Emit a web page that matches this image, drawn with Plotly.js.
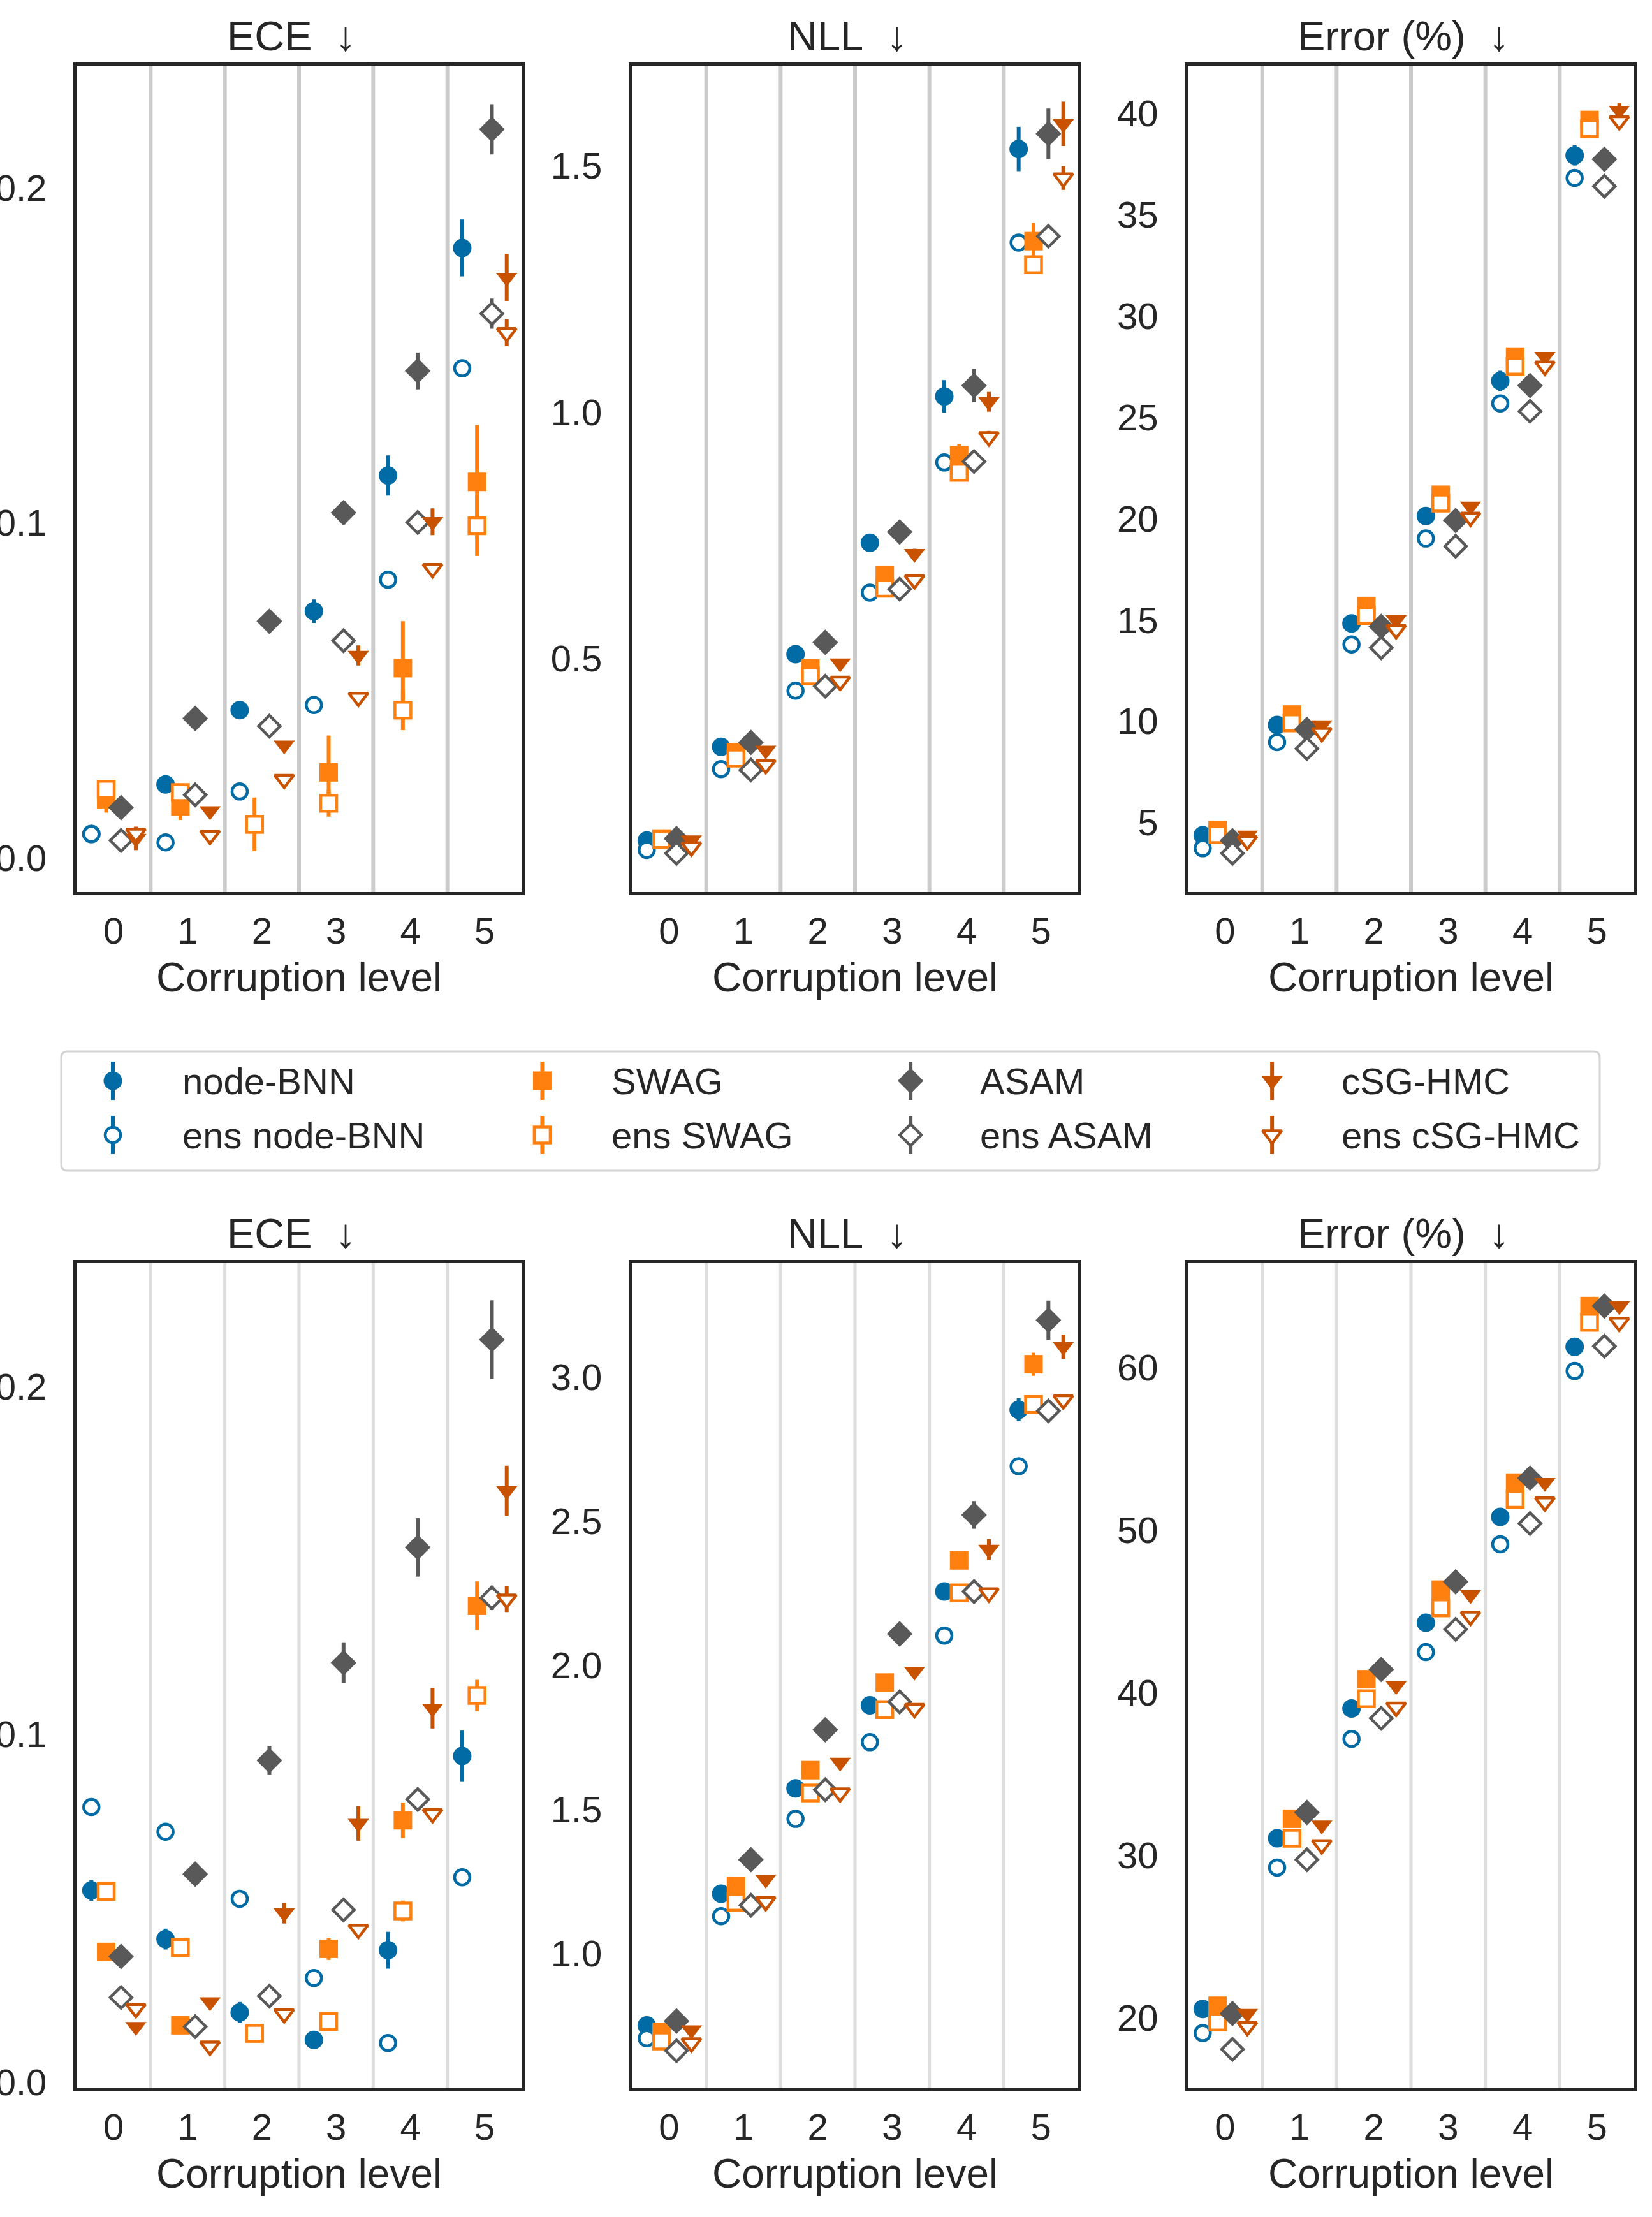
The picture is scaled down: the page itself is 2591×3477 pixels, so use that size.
<!DOCTYPE html>
<html>
<head>
<meta charset="utf-8">
<script src="https://cdn.plot.ly/plotly-3.0.1.min.js"></script>
<style>
  html, body { margin: 0; padding: 0; background: #ffffff; }
  #fig { width: 2591px; height: 3477px; }
</style>
</head>
<body>
<div id="fig"></div>
<script>
// ---------------------------------------------------------------
// Corruption levels (x categories) and methods
// ---------------------------------------------------------------
const LEVELS = [0, 1, 2, 3, 4, 5];
const METHODS = ['node-BNN', 'SWAG', 'ASAM', 'cSG-HMC'];

// ---------------------------------------------------------------
// CIFAR-10-C (top row): mean and error-bar half-widths
// ---------------------------------------------------------------
// ECE
const c10_ece_node       = [0.0071, 0.0219, 0.0441, 0.0736, 0.1141, 0.1820];
const c10_ece_node_sd    = [0.0010, 0.0020, 0.0020, 0.0035, 0.0060, 0.0085];
const c10_ece_ensNode    = [0.0071, 0.0046, 0.0198, 0.0456, 0.0830, 0.1461];
const c10_ece_ensNode_sd = [0.0010, 0.0010, 0.0010, 0.0010, 0.0010, 0.0020];
const c10_ece_swag       = [0.0175, 0.0153, 0.0100, 0.0255, 0.0566, 0.1122];
const c10_ece_swag_sd    = [0.0040, 0.0040, 0.0080, 0.0110, 0.0140, 0.0170];
const c10_ece_ensSwag    = [0.0205, 0.0195, 0.0100, 0.0163, 0.0441, 0.0991];
const c10_ece_ensSwag_sd = [0.0010, 0.0010, 0.0020, 0.0040, 0.0060, 0.0090];
const c10_ece_asam       = [0.0150, 0.0416, 0.0706, 0.1030, 0.1453, 0.2174];
const c10_ece_asam_sd    = [0.0010, 0.0010, 0.0010, 0.0035, 0.0055, 0.0075];
const c10_ece_ensAsam    = [0.0052, 0.0188, 0.0393, 0.0648, 0.1001, 0.1624];
const c10_ece_ensAsam_sd = [0.0010, 0.0010, 0.0010, 0.0010, 0.0010, 0.0045];
const c10_ece_csg        = [0.0058, 0.0140, 0.0336, 0.0604, 0.1003, 0.1732];
const c10_ece_csg_sd     = [0.0035, 0.0010, 0.0010, 0.0030, 0.0040, 0.0070];
const c10_ece_ensCsg     = [0.0073, 0.0067, 0.0234, 0.0479, 0.0863, 0.1567];
const c10_ece_ensCsg_sd  = [0.0010, 0.0010, 0.0010, 0.0010, 0.0010, 0.0040];

// NLL
const c10_nll_node       = [0.131, 0.321, 0.509, 0.735, 1.032, 1.534];
const c10_nll_node_sd    = [0.005, 0.005, 0.005, 0.015, 0.033, 0.045];
const c10_nll_ensNode    = [0.112, 0.276, 0.435, 0.634, 0.898, 1.344];
const c10_nll_ensNode_sd = [0.005, 0.005, 0.005, 0.005, 0.005, 0.005];
const c10_nll_swag       = [0.135, 0.310, 0.480, 0.669, 0.913, 1.347];
const c10_nll_swag_sd    = [0.005, 0.005, 0.005, 0.010, 0.023, 0.037];
const c10_nll_ensSwag    = [0.133, 0.298, 0.465, 0.643, 0.878, 1.299];
const c10_nll_ensSwag_sd = [0.005, 0.005, 0.005, 0.005, 0.005, 0.005];
const c10_nll_asam       = [0.135, 0.330, 0.533, 0.757, 1.054, 1.565];
const c10_nll_asam_sd    = [0.005, 0.005, 0.005, 0.010, 0.034, 0.051];
const c10_nll_ensAsam    = [0.105, 0.274, 0.444, 0.641, 0.900, 1.357];
const c10_nll_ensAsam_sd = [0.005, 0.005, 0.005, 0.005, 0.005, 0.005];
const c10_nll_csg        = [0.132, 0.314, 0.491, 0.713, 1.021, 1.585];
const c10_nll_csg_sd     = [0.005, 0.005, 0.005, 0.010, 0.020, 0.045];
const c10_nll_ensCsg     = [0.118, 0.285, 0.454, 0.660, 0.950, 1.475];
const c10_nll_ensCsg_sd  = [0.005, 0.005, 0.005, 0.005, 0.012, 0.024];

// Error (%)
const c10_err_node       = [4.37, 9.82, 14.83, 20.13, 26.80, 37.93];
const c10_err_node_sd    = [0.10, 0.10, 0.10, 0.20, 0.50, 0.50];
const c10_err_ensNode    = [3.73, 8.97, 13.79, 19.02, 25.69, 36.82];
const c10_err_ensNode_sd = [0.10, 0.10, 0.10, 0.10, 0.10, 0.10];
const c10_err_swag       = [4.62, 10.33, 15.69, 21.18, 28.00, 39.68];
const c10_err_swag_sd    = [0.10, 0.10, 0.10, 0.10, 0.10, 0.10];
const c10_err_ensSwag    = [4.40, 9.92, 15.22, 20.77, 27.53, 39.26];
const c10_err_ensSwag_sd = [0.10, 0.10, 0.10, 0.10, 0.10, 0.10];
const c10_err_asam       = [4.11, 9.60, 14.68, 19.91, 26.57, 37.74];
const c10_err_asam_sd    = [0.10, 0.10, 0.10, 0.10, 0.10, 0.10];
const c10_err_ensAsam    = [3.48, 8.65, 13.63, 18.64, 25.30, 36.41];
const c10_err_ensAsam_sd = [0.10, 0.10, 0.10, 0.10, 0.10, 0.10];
const c10_err_csg        = [4.37, 9.82, 15.00, 20.61, 28.00, 40.15];
const c10_err_csg_sd     = [0.10, 0.10, 0.10, 0.10, 0.10, 0.35];
const c10_err_ensCsg     = [4.10, 9.44, 14.52, 20.07, 27.53, 39.64];
const c10_err_ensCsg_sd  = [0.10, 0.10, 0.10, 0.10, 0.10, 0.10];

// ---------------------------------------------------------------
// CIFAR-100-C (bottom row)
// ---------------------------------------------------------------
// ECE
const c100_ece_node       = [0.0551, 0.0411, 0.0200, 0.0121, 0.0379, 0.0938];
const c100_ece_node_sd    = [0.0030, 0.0030, 0.0030, 0.0010, 0.0053, 0.0073];
const c100_ece_ensNode    = [0.0791, 0.0720, 0.0527, 0.0299, 0.0112, 0.0589];
const c100_ece_ensNode_sd = [0.0010, 0.0010, 0.0010, 0.0010, 0.0010, 0.0010];
const c100_ece_swag       = [0.0374, 0.0163, 0.0140, 0.0383, 0.0753, 0.1370];
const c100_ece_swag_sd    = [0.0010, 0.0010, 0.0010, 0.0032, 0.0051, 0.0070];
const c100_ece_ensSwag    = [0.0548, 0.0387, 0.0140, 0.0174, 0.0492, 0.1112];
const c100_ece_ensSwag_sd = [0.0010, 0.0010, 0.0010, 0.0010, 0.0030, 0.0045];
const c100_ece_asam       = [0.0361, 0.0598, 0.0925, 0.1206, 0.1538, 0.2136];
const c100_ece_asam_sd    = [0.0010, 0.0010, 0.0042, 0.0059, 0.0084, 0.0113];
const c100_ece_ensAsam    = [0.0243, 0.0159, 0.0247, 0.0495, 0.0813, 0.1393];
const c100_ece_ensAsam_sd = [0.0010, 0.0010, 0.0010, 0.0010, 0.0010, 0.0035];
const c100_ece_csg        = [0.0159, 0.0230, 0.0486, 0.0744, 0.1075, 0.1701];
const c100_ece_csg_sd     = [0.0010, 0.0010, 0.0030, 0.0050, 0.0058, 0.0072];
const c100_ece_ensCsg     = [0.0211, 0.0103, 0.0196, 0.0439, 0.0772, 0.1389];
const c100_ece_ensCsg_sd  = [0.0010, 0.0010, 0.0010, 0.0010, 0.0010, 0.0037];

// NLL
const c100_nll_node       = [0.750, 1.207, 1.573, 1.861, 2.256, 2.887];
const c100_nll_node_sd    = [0.010, 0.010, 0.010, 0.010, 0.010, 0.040];
const c100_nll_ensNode    = [0.705, 1.129, 1.467, 1.733, 2.103, 2.691];
const c100_nll_ensNode_sd = [0.010, 0.010, 0.010, 0.010, 0.010, 0.010];
const c100_nll_swag       = [0.727, 1.234, 1.636, 1.940, 2.364, 3.045];
const c100_nll_swag_sd    = [0.010, 0.010, 0.010, 0.010, 0.010, 0.040];
const c100_nll_ensSwag    = [0.696, 1.178, 1.557, 1.846, 2.251, 2.905];
const c100_nll_ensSwag_sd = [0.010, 0.010, 0.010, 0.010, 0.010, 0.010];
const c100_nll_asam       = [0.765, 1.325, 1.776, 2.109, 2.522, 3.198];
const c100_nll_asam_sd    = [0.010, 0.010, 0.010, 0.010, 0.048, 0.068];
const c100_nll_ensAsam    = [0.662, 1.167, 1.568, 1.873, 2.256, 2.883];
const c100_nll_ensAsam_sd = [0.010, 0.010, 0.010, 0.010, 0.010, 0.010];
const c100_nll_csg        = [0.734, 1.257, 1.663, 1.979, 2.402, 3.106];
const c100_nll_csg_sd     = [0.010, 0.010, 0.010, 0.010, 0.036, 0.042];
const c100_nll_ensCsg     = [0.689, 1.180, 1.557, 1.850, 2.251, 2.921];
const c100_nll_ensCsg_sd  = [0.010, 0.010, 0.010, 0.010, 0.010, 0.010];

// Error (%)
const c100_err_node       = [20.56, 31.06, 39.04, 44.31, 50.82, 61.28];
const c100_err_node_sd    = [0.10, 0.10, 0.10, 0.10, 0.10, 0.10];
const c100_err_ensNode    = [19.08, 29.26, 37.17, 42.51, 49.14, 59.80];
const c100_err_ensNode_sd = [0.10, 0.10, 0.10, 0.10, 0.10, 0.10];
const c100_err_swag       = [20.76, 32.26, 40.84, 46.35, 52.93, 63.79];
const c100_err_swag_sd    = [0.10, 0.10, 0.10, 0.10, 0.10, 0.10];
const c100_err_ensSwag    = [19.76, 31.06, 39.64, 45.23, 51.90, 62.79];
const c100_err_ensSwag_sd = [0.10, 0.10, 0.10, 0.10, 0.10, 0.10];
const c100_err_asam       = [20.28, 32.65, 41.44, 46.83, 53.21, 63.79];
const c100_err_asam_sd    = [0.10, 0.10, 0.10, 0.10, 0.10, 0.10];
const c100_err_ensAsam    = [18.08, 29.74, 38.44, 43.91, 50.42, 61.32];
const c100_err_ensAsam_sd = [0.10, 0.10, 0.10, 0.10, 0.10, 0.10];
const c100_err_csg        = [20.28, 31.86, 40.44, 46.03, 52.93, 63.79];
const c100_err_csg_sd     = [0.10, 0.10, 0.10, 0.10, 0.10, 0.10];
const c100_err_ensCsg     = [19.48, 30.66, 39.12, 44.71, 51.74, 62.79];
const c100_err_ensCsg_sd  = [0.10, 0.10, 0.10, 0.10, 0.10, 0.10];

// Y tick values per metric
const ECE_TICKS = [0.0, 0.1, 0.2];
const C10_NLL_TICKS = [0.5, 1.0, 1.5];
const C10_ERR_TICKS = [5, 10, 15, 20, 25, 30, 35, 40];
const C100_NLL_TICKS = [1.0, 1.5, 2.0, 2.5, 3.0];
const C100_ERR_TICKS = [20, 30, 40, 50, 60];

// ---------------------------------------------------------------
// Styling
// ---------------------------------------------------------------
const FONT = 'Liberation Sans, Arial, Helvetica, sans-serif';
const INK = '#262626';
const METHOD_COLOR  = ['#006BA4', '#FF800E', '#595959', '#C85200'];
const METHOD_SYMBOL = ['circle', 'square', 'diamond', 'triangle-down'];
const METHOD_DODGE  = [-0.3, -0.1, 0.1, 0.3];
const FILLED_SIZE   = [29, 29, 31, 29];
const OPEN_SIZE     = [24, 25, 26, 26];
const OPEN_EDGE     = 4.5;
const ERR_THICK     = 6;

const W = 2591, H = 3477;
// plot-area pixel boxes
const COLS_PX = [[120, 818], [991, 1691], [1863, 2563]];
const ROWS_PX = [[103, 1399], [1981, 3275]];
const SEP_STYLE = [{ color: '#CCCCCC', width: 6 }, { color: '#DDDDDD', width: 5 }];

// panels: metric title, y range, ticks, tick format, series arrays
const PANELS = [
  { row: 0, col: 0, title: 'ECE', range: [-0.0102, 0.2364], ticks: ECE_TICKS, fmt: '.1f',
    vals: [c10_ece_node, c10_ece_ensNode, c10_ece_swag, c10_ece_ensSwag, c10_ece_asam, c10_ece_ensAsam, c10_ece_csg, c10_ece_ensCsg],
    sds:  [c10_ece_node_sd, c10_ece_ensNode_sd, c10_ece_swag_sd, c10_ece_ensSwag_sd, c10_ece_asam_sd, c10_ece_ensAsam_sd, c10_ece_csg_sd, c10_ece_ensCsg_sd] },
  { row: 0, col: 1, title: 'NLL', range: [0.0265, 1.703], ticks: C10_NLL_TICKS, fmt: '.1f',
    vals: [c10_nll_node, c10_nll_ensNode, c10_nll_swag, c10_nll_ensSwag, c10_nll_asam, c10_nll_ensAsam, c10_nll_csg, c10_nll_ensCsg],
    sds:  [c10_nll_node_sd, c10_nll_ensNode_sd, c10_nll_swag_sd, c10_nll_ensSwag_sd, c10_nll_asam_sd, c10_nll_ensAsam_sd, c10_nll_csg_sd, c10_nll_ensCsg_sd] },
  { row: 0, col: 2, title: 'Error (%)', range: [1.57, 42.36], ticks: C10_ERR_TICKS, fmt: 'd',
    vals: [c10_err_node, c10_err_ensNode, c10_err_swag, c10_err_ensSwag, c10_err_asam, c10_err_ensAsam, c10_err_csg, c10_err_ensCsg],
    sds:  [c10_err_node_sd, c10_err_ensNode_sd, c10_err_swag_sd, c10_err_ensSwag_sd, c10_err_asam_sd, c10_err_ensAsam_sd, c10_err_csg_sd, c10_err_ensCsg_sd] },
  { row: 1, col: 0, title: 'ECE', range: [-0.0018, 0.2356], ticks: ECE_TICKS, fmt: '.1f',
    vals: [c100_ece_node, c100_ece_ensNode, c100_ece_swag, c100_ece_ensSwag, c100_ece_asam, c100_ece_ensAsam, c100_ece_csg, c100_ece_ensCsg],
    sds:  [c100_ece_node_sd, c100_ece_ensNode_sd, c100_ece_swag_sd, c100_ece_ensSwag_sd, c100_ece_asam_sd, c100_ece_ensAsam_sd, c100_ece_csg_sd, c100_ece_ensCsg_sd] },
  { row: 1, col: 1, title: 'NLL', range: [0.532, 3.396], ticks: C100_NLL_TICKS, fmt: '.1f',
    vals: [c100_nll_node, c100_nll_ensNode, c100_nll_swag, c100_nll_ensSwag, c100_nll_asam, c100_nll_ensAsam, c100_nll_csg, c100_nll_ensCsg],
    sds:  [c100_nll_node_sd, c100_nll_ensNode_sd, c100_nll_swag_sd, c100_nll_ensSwag_sd, c100_nll_asam_sd, c100_nll_ensAsam_sd, c100_nll_csg_sd, c100_nll_ensCsg_sd] },
  { row: 1, col: 2, title: 'Error (%)', range: [15.69, 66.43], ticks: C100_ERR_TICKS, fmt: 'd',
    vals: [c100_err_node, c100_err_ensNode, c100_err_swag, c100_err_ensSwag, c100_err_asam, c100_err_ensAsam, c100_err_csg, c100_err_ensCsg],
    sds:  [c100_err_node_sd, c100_err_ensNode_sd, c100_err_swag_sd, c100_err_ensSwag_sd, c100_err_asam_sd, c100_err_ensAsam_sd, c100_err_csg_sd, c100_err_ensCsg_sd] }
];

function markerStyle(m, ens) {
  return {
    symbol: METHOD_SYMBOL[m],
    size: ens ? OPEN_SIZE[m] : FILLED_SIZE[m],
    color: ens ? '#ffffff' : METHOD_COLOR[m],
    line: { width: ens ? OPEN_EDGE : 0, color: METHOD_COLOR[m] }
  };
}

const traces = [];
const layout = {
  width: W, height: H,
  margin: { l: 0, r: 0, t: 0, b: 0 },
  paper_bgcolor: '#ffffff', plot_bgcolor: '#ffffff',
  font: { family: FONT, color: INK },
  showlegend: false,
  shapes: [], annotations: []
};

PANELS.forEach((p, i) => {
  const k = i + 1;
  const xs = k === 1 ? 'x' : 'x' + k;
  const ys = k === 1 ? 'y' : 'y' + k;
  const [x0, x1] = COLS_PX[p.col];
  const [yTop, yBot] = ROWS_PX[p.row];
  const xdom = [x0 / W, x1 / W];
  const ydom = [(H - yBot) / H, (H - yTop) / H];

  layout[k === 1 ? 'xaxis' : 'xaxis' + k] = {
    domain: xdom, anchor: ys, range: [-0.5, 5.5],
    tickmode: 'array', tickvals: LEVELS, ticktext: LEVELS.map(String),
    ticks: '', showgrid: false, zeroline: false,
    showline: true, mirror: true, linecolor: INK, linewidth: 5,
    tickfont: { size: 58, color: INK, family: FONT },
    ticklabelstandoff: 6, fixedrange: true
  };
  layout[k === 1 ? 'yaxis' : 'yaxis' + k] = {
    domain: ydom, anchor: xs, range: p.range,
    tickmode: 'array', tickvals: p.ticks, tickformat: p.fmt,
    ticks: '', showgrid: false, zeroline: false,
    showline: true, mirror: true, linecolor: INK, linewidth: 5,
    tickfont: { size: 58, color: INK, family: FONT },
    ticklabelstandoff: 30, fixedrange: true
  };

  // light separators between corruption levels
  LEVELS.slice(0, -1).forEach(l => {
    layout.shapes.push({
      type: 'line', xref: xs, yref: ys + ' domain',
      x0: l + 0.5, x1: l + 0.5, y0: 0, y1: 1,
      line: SEP_STYLE[p.row], layer: 'below'
    });
  });

  // panel title
  layout.annotations.push({
    xref: 'paper', yref: 'paper', x: (xdom[0] + xdom[1]) / 2, y: ydom[1],
    xanchor: 'center', yanchor: 'bottom', xshift: -12, yshift: 8, showarrow: false,
    text: p.title + '\u00a0\u00a0\u2193', font: { size: 65, color: INK, family: FONT }
  });
  // x-axis label
  layout.annotations.push({
    xref: 'paper', yref: 'paper', x: (xdom[0] + xdom[1]) / 2, y: ydom[0],
    xanchor: 'center', yanchor: 'top', yshift: -96, showarrow: false,
    text: 'Corruption level', font: { size: 64, color: INK, family: FONT }
  });

  // markers: each method, then its ensemble variant
  for (let s = 0; s < 8; s++) {
    const m = Math.floor(s / 2);
    const ens = s % 2 === 1;
    traces.push({
      type: 'scatter', mode: 'markers', xaxis: xs, yaxis: ys,
      name: (ens ? 'ens ' : '') + METHODS[m],
      x: LEVELS.map(l => l + METHOD_DODGE[m]),
      y: p.vals[s],
      error_y: { type: 'data', array: p.sds[s], visible: true,
                 color: METHOD_COLOR[m], thickness: ERR_THICK, width: 0 },
      marker: markerStyle(m, ens),
      cliponaxis: false, hoverinfo: 'skip', showlegend: false
    });
  }
});

// ---------------------------------------------------------------
// Legend key (4 columns: methods; 2 rows: single / ensemble)
// ---------------------------------------------------------------
const LEG = { left: 96, right: 2509, top: 1649, bottom: 1836, pad: 12,
              firstHandle: 81, handleToText: 107, colGap: 186,
              rowY: [46, 131], errHalf: 30, fontSize: 58, radius: 10 };

function textWidth(str, size) {
  const ctx = document.createElement('canvas').getContext('2d');
  ctx.font = size + 'px "Liberation Sans", Arial, sans-serif';
  return ctx.measureText(str).width;
}
const legW = LEG.right - LEG.left, legH = LEG.bottom - LEG.top;
const colX = [];
let cx = LEG.firstHandle;
METHODS.forEach((name, m) => {
  colX.push(cx);
  const w = Math.max(textWidth(name, LEG.fontSize), textWidth('ens ' + name, LEG.fontSize));
  cx += LEG.handleToText + w + LEG.colGap;
});

layout.xaxis7 = {
  domain: [(LEG.left - LEG.pad) / W, (LEG.right + LEG.pad) / W], anchor: 'y7',
  range: [-LEG.pad, legW + LEG.pad], visible: false, fixedrange: true
};
layout.yaxis7 = {
  domain: [(H - LEG.bottom - LEG.pad) / H, (H - LEG.top + LEG.pad) / H], anchor: 'x7',
  range: [legH + LEG.pad, -LEG.pad], visible: false, fixedrange: true
};
const r = LEG.radius;
layout.shapes.push({
  type: 'path', xref: 'x7', yref: 'y7', layer: 'below',
  path: `M ${r},0 L ${legW - r},0 Q ${legW},0 ${legW},${r} L ${legW},${legH - r} Q ${legW},${legH} ${legW - r},${legH} ` +
        `L ${r},${legH} Q 0,${legH} 0,${legH - r} L 0,${r} Q 0,0 ${r},0 Z`,
  line: { color: '#D4D4D4', width: 3 }, fillcolor: '#ffffff'
});
METHODS.forEach((name, m) => {
  [false, true].forEach((ens, row) => {
    traces.push({
      type: 'scatter', mode: 'markers', xaxis: 'x7', yaxis: 'y7',
      name: (ens ? 'ens ' : '') + name,
      x: [colX[m]], y: [LEG.rowY[row]],
      error_y: { type: 'data', array: [LEG.errHalf], visible: true,
                 color: METHOD_COLOR[m], thickness: ERR_THICK, width: 0 },
      marker: markerStyle(m, ens),
      cliponaxis: false, hoverinfo: 'skip', showlegend: false
    });
    layout.annotations.push({
      xref: 'x7', yref: 'y7', x: colX[m] + LEG.handleToText, y: LEG.rowY[row],
      xanchor: 'left', yanchor: 'middle', showarrow: false,
      text: (ens ? 'ens ' : '') + name,
      font: { size: LEG.fontSize, color: INK, family: FONT }
    });
  });
});

Plotly.newPlot('fig', traces, layout, { staticPlot: true, displayModeBar: false });
</script>
</body>
</html>
